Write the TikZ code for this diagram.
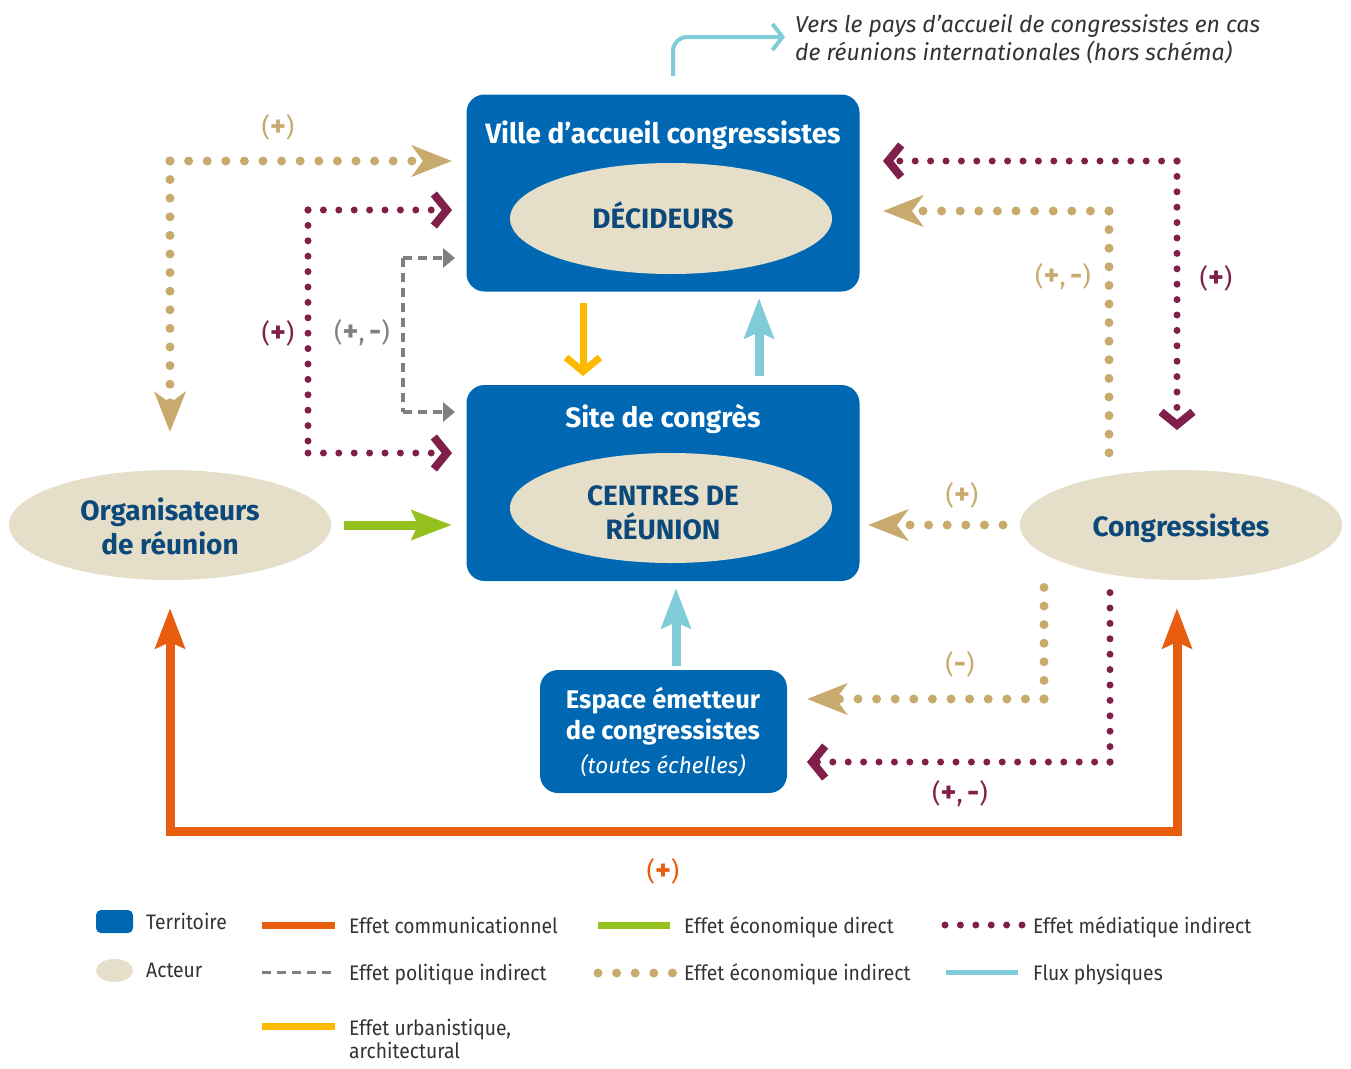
\documentclass[tikz,border=0pt]{standalone}
\usepackage{fontspec}
\setmainfont{Fira Sans}
\newfontfamily\legfont[FakeStretch=0.92]{Fira Sans}
\usetikzlibrary{arrows.meta,shapes.geometric}
\definecolor{terrblue}{RGB}{0,104,178}
\definecolor{acteur}{RGB}{229,223,201}
\definecolor{dblue}{RGB}{12,72,122}
\definecolor{tanc}{RGB}{200,169,110}
\definecolor{purp}{RGB}{128,32,74}
\definecolor{grayc}{RGB}{128,128,128}
\definecolor{orng}{RGB}{232,93,14}
\definecolor{grn}{RGB}{149,193,31}
\definecolor{ylw}{RGB}{251,186,0}
\definecolor{lblue}{RGB}{128,203,216}
\definecolor{txtg}{RGB}{51,51,51}
\newcommand{\pl}{{\bfseries\fontsize{30}{30}\selectfont +}}
\newcommand{\mi}{{\bfseries\fontsize{30}{30}\selectfont -}}
\tikzset{
  terr/.style={fill=terrblue, draw=none, rounded corners=18pt, inner sep=0pt},
  act/.style={ellipse, fill=acteur, draw=none, inner sep=0pt},
  ttl/.style={text=white, inner sep=0pt, anchor=base, font=\bfseries\fontsize{28}{34}\selectfont},
  acttxt/.style={text=dblue, inner sep=0pt, align=center, font=\bfseries\fontsize{28}{34}\selectfont},
  esptxt/.style={text=white, inner sep=0pt, anchor=base, font=\bfseries\fontsize{25.5}{30}\selectfont},
  legtxt/.style={text=txtg, inner sep=0pt, anchor=base west, font=\legfont\fontsize{21}{25}\selectfont},
  lab/.style={inner sep=0pt, font=\fontsize{26}{30}\selectfont},
  tandot/.style={draw=tanc, line width=9pt, line cap=round, dash pattern=on 0pt off 18.6pt},
  purdot/.style={draw=purp, line width=7pt, line cap=round, dash pattern=on 0pt off 15.4pt},
  graydash/.style={draw=grayc, line width=3.5pt, dash pattern=on 9pt off 6pt},
  solidln/.style={line width=9pt},
  tanH/.tip={Stealth[length=40pt,width=31pt,inset=11pt]},
  purH/.tip={Straight Barb[length=13pt,width=32pt,line width=8pt,sharp]},
  grayH/.tip={Triangle[length=12pt,width=19pt]},
  bigH/.tip={Stealth[length=40pt,width=29pt,inset=6pt]},
  ylwH/.tip={Straight Barb[length=14pt,width=34pt,line width=7pt,sharp]},
  thinH/.tip={Straight Barb[length=10pt,width=26pt,line width=4pt,sharp]}
}
\begin{document}
\begin{tikzpicture}[x=1pt,y=-1pt]
\useasboundingbox (0,0) rectangle (1351,1068);
% ---- territories
\node[terr, minimum width=393pt, minimum height=197pt] (ville) at (663,193) {};
\node[act, minimum width=322pt, minimum height=111pt] (decel) at (671,218.5) {};
\node[ttl] (villeT) at (663,143) {Ville d’accueil congressistes};
\node[acttxt, anchor=base] (decid) at (663,228) {DÉCIDEURS};

\node[terr, minimum width=393pt, minimum height=196pt] (site) at (663,483) {};
\node[act, minimum width=322pt, minimum height=110pt] (centel) at (671,508) {};
\node[ttl] (siteT) at (663,427) {Site de congrès};
\node[acttxt, anchor=base] (cent1) at (663,505) {CENTRES DE};
\node[acttxt, anchor=base] (cent2) at (663,539) {RÉUNION};

\node[terr, minimum width=247pt, minimum height=123pt] (esp) at (663.5,731.5) {};
\node[esptxt] (esp1) at (663,708) {Espace émetteur};
\node[esptxt] (esp2) at (663,739) {de congressistes};
\node[esptxt, font=\itshape\fontsize{22.5}{26}\selectfont] (esp3) at (663,773) {(toutes échelles)};

% ---- actors
\node[act, minimum width=322pt, minimum height=110pt] (orga) at (170,525) {};
\node[acttxt, anchor=base] (orga1) at (170,520) {Organisateurs};
\node[acttxt, anchor=base] (orga2) at (170,554) {de réunion};
\node[act, minimum width=322pt, minimum height=110pt] (congr) at (1181,525) {};
\node[acttxt, anchor=base] (congrT) at (1181,536) {Congressistes};

% ---- coordinates
\coordinate (tlC) at (170,161);
\coordinate (tlD) at (170,432);
\coordinate (tlR) at (452,161);
\coordinate (plC1) at (308,210);
\coordinate (plC2) at (308,453);
\coordinate (plT) at (452,210);
\coordinate (plB) at (452,453);
\coordinate (gC1) at (403,258);
\coordinate (gC2) at (403,412);
\coordinate (gT) at (455,258);
\coordinate (gB) at (455,412);
\coordinate (yS) at (583,303);
\coordinate (yE) at (583,376);
\coordinate (bS) at (759,376);
\coordinate (bE) at (759,298);
\coordinate (grS) at (344,525);
\coordinate (grE) at (452,525);
\coordinate (b2S) at (676,666);
\coordinate (b2E) at (676,588);
\coordinate (topS) at (673,76);
\coordinate (topE) at (785,37);
\coordinate (trC) at (1109,211);
\coordinate (trB) at (1109,465);
\coordinate (trT) at (883,211);
\coordinate (prC) at (1177,161);
\coordinate (prL) at (883,161);
\coordinate (prB) at (1177,430);
\coordinate (tmS) at (1003,525);
\coordinate (tmE) at (868,525);
\coordinate (tlwC) at (1044,699);
\coordinate (tlwT) at (1044,580);
\coordinate (tlwE) at (807,699);
\coordinate (plwC) at (1110,762);
\coordinate (plwT) at (1110,587);
\coordinate (plwE) at (807,762);
\coordinate (oL) at (170,608);
\coordinate (oLC) at (170,831);
\coordinate (oRC) at (1177,831);
\coordinate (oR) at (1177,608);

% ---- connectors
\draw[tandot,-{tanH}] (tlC) -- (tlD);
\draw[tandot,-{tanH}] (tlC) -- (tlR);
\draw[purdot] (plC1) -- (plC2);
\draw[purdot,-{purH}] (plC1) -- (plT);
\draw[purdot,-{purH}] (plC2) -- (plB);
\draw[graydash] (gC1) -- (gC2);
\draw[graydash,-{grayH}] (gC1) -- (gT);
\draw[graydash,-{grayH}] (gC2) -- (gB);
\draw[ylw, line width=7pt, -{ylwH}] (yS) -- (yE);
\draw[lblue, solidln, -{bigH}] (bS) -- (bE);
\draw[grn, solidln, -{bigH}] (grS) -- (grE);
\draw[lblue, solidln, -{bigH}] (b2S) -- (b2E);
\draw[lblue, line width=4pt, rounded corners=14pt, -{thinH}] (topS) |- (topE);
\draw[tandot] (trC) -- (trB);
\draw[tandot,-{tanH}] (trC) -- (trT);
\draw[purdot,-{purH}] (prC) -- (prL);
\draw[purdot,-{purH}] (prC) -- (prB);
\draw[tandot,-{tanH}] (tmS) -- (tmE);
\draw[tandot] (tlwC) -- (tlwT);
\draw[tandot,-{tanH}] (tlwC) -- (tlwE);
\draw[purdot] (plwC) -- (plwT);
\draw[purdot,-{purH}] (plwC) -- (plwE);
\draw[orng, solidln, line join=miter, {bigH}-{bigH}] (oL) -- (oLC) -- (oRC) -- (oR);

% ---- labels
\node[lab, text=tanc] (l1) at (278,127) {(\pl)};
\node[lab, text=purp] (l2) at (278,333) {(\pl)};
\node[lab, text=grayc] (l3) at (362,333) {(\pl,\,\mi)};
\node[lab, text=tanc] (l4) at (1063,277) {(\pl,\,\mi)};
\node[lab, text=purp] (l5) at (1216,278) {(\pl)};
\node[lab, text=tanc] (l6) at (962,495) {(\pl)};
\node[lab, text=tanc] (l7) at (960,664) {(\mi)};
\node[lab, text=purp] (l8) at (960,794) {(\pl,\,\mi)};
\node[lab, text=orng] (l9) at (663,871) {(\pl)};

% ---- top note
\node[inner sep=0pt, anchor=base west, text=txtg, font=\itshape\fontsize{23}{28}\selectfont] (note1) at (795,32) {Vers le pays d’accueil de congressistes en cas};
\node[inner sep=0pt, anchor=base west, text=txtg, font=\itshape\fontsize{23}{28}\selectfont] (note2) at (795,60) {de réunions internationales (hors schéma)};

% ---- legend
\node[terr, rounded corners=5pt, minimum width=37pt, minimum height=23pt] (legT) at (114.5,921.5) {};
\node[legtxt] (legTt) at (146,929) {Territoire};
\node[act, minimum width=37pt, minimum height=23pt] (legA) at (114.5,970.5) {};
\node[legtxt] (legAt) at (146,977) {Acteur};
\coordinate (lo1) at (262,925); \coordinate (lo2) at (335,925);
\draw[orng, line width=7pt] (lo1) -- (lo2);
\node[legtxt] (loT) at (349,933) {Effet communicationnel};
\coordinate (lg1) at (262,972); \coordinate (lg2) at (335,972);
\draw[graydash, line width=3pt] (lg1) -- (lg2);
\node[legtxt] (lgT) at (349,980) {Effet politique indirect};
\coordinate (ly1) at (262,1026); \coordinate (ly2) at (335,1026);
\draw[ylw, line width=7pt] (ly1) -- (ly2);
\node[legtxt] (lyT1) at (349,1035) {Effet urbanistique,};
\node[legtxt] (lyT2) at (349,1058) {architectural};
\coordinate (lgr1) at (598,925); \coordinate (lgr2) at (670,925);
\draw[grn, line width=7pt] (lgr1) -- (lgr2);
\node[legtxt] (lgrT) at (684,933) {Effet économique direct};
\coordinate (lt1) at (598,973); \coordinate (lt2) at (673,973);
\draw[tandot] (lt1) -- (lt2);
\node[legtxt] (ltT) at (684,980) {Effet économique indirect};
\coordinate (lp1) at (945,925); \coordinate (lp2) at (1022,925);
\draw[purdot] (lp1) -- (lp2);
\node[legtxt] (lpT) at (1033,933) {Effet médiatique indirect};
\coordinate (lb1) at (946,972); \coordinate (lb2) at (1018,972);
\draw[lblue, line width=5pt] (lb1) -- (lb2);
\node[legtxt] (lbT) at (1033,980) {Flux physiques};
\end{tikzpicture}
\end{document}
